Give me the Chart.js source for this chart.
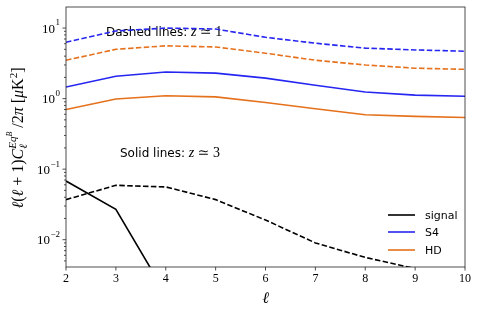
<!DOCTYPE html>
<html>
<head>
<meta charset="utf-8">
<script src="https://cdn.jsdelivr.net/npm/chart.js@4.4.0/dist/chart.umd.min.js"></script>
<style>
html, body { margin: 0; padding: 0; background: #fff; }
#wrap { width: 479px; height: 314px; }
</style>
</head>
<body>
<div id="wrap"><canvas id="c"></canvas></div>
<script>
// data
const ells = [2, 3, 4, 5, 6, 7, 8, 9, 10];
const signalZ3 = [0.068, 0.027, 0.0017, null, null, null, null, null, null];
const signalZ1 = [0.037, 0.059, 0.056, 0.037, 0.019, 0.009, 0.0056, 0.0039, 0.0026];
const s4Z3 = [1.46, 2.08, 2.38, 2.3, 1.95, 1.55, 1.24, 1.12, 1.08];
const s4Z1 = [6.3, 9.1, 10.0, 9.7, 7.4, 6.1, 5.2, 4.9, 4.7];
const hdZ3 = [0.70, 0.99, 1.1, 1.06, 0.88, 0.72, 0.59, 0.56, 0.54];
const hdZ1 = [3.5, 5.0, 5.6, 5.4, 4.4, 3.5, 3.0, 2.7, 2.6];
const yDecades = [0.01, 0.1, 1, 10];
const yDecadeExp = ['−2', '−1', '0', '1'];
const legendLabels = ['signal', 'S4', 'HD'];

const BLUE = '#2626f2';
const ORANGE = '#e5711c';
const BLACK = '#000000';
const DASH = [5.5, 2.4];

function pts(arr) {
    return ells.map((x, i) => ({ x: x, y: arr[i] }));
}

function ds(arr, color, dashed) {
    return {
        data: pts(arr),
        borderColor: color,
        borderWidth: 1.6,
        borderDash: dashed ? DASH : [],
        pointRadius: 0,
        fill: false,
        tension: 0,
        spanGaps: false
    };
}

const SERIF = '"Liberation Serif", "DejaVu Serif", serif';
const SANS = '"DejaVu Sans", "Noto Sans", sans-serif';

// text with the math part in serif
function note(ctx, x, y, words, sym) {
    ctx.font = '12px ' + SANS;
    ctx.fillText(words, x, y);
    let w = ctx.measureText(words).width;
    ctx.font = 'italic 14px ' + SERIF;
    ctx.fillText('z', x + w, y);
    w += ctx.measureText('z ').width;
    ctx.font = '14px ' + SERIF;
    ctx.fillText(sym, x + w, y);
}

// frame, ticks, labels, legend, notes
const decor = {
    id: 'decor',
    beforeDatasetsDraw(chart) {
        const ctx = chart.ctx;
        ctx.save();
        ctx.fillStyle = '#000';
        ctx.textBaseline = 'alphabetic';
        ctx.textAlign = 'left';
        note(ctx, 106, 36, 'Dashed lines: ', '≃ 1');
        note(ctx, 120, 157, 'Solid lines: ', '≃ 3');
        ctx.restore();
    },
    afterDraw(chart) {
        const ctx = chart.ctx;
        const a = chart.chartArea;
        const xs = chart.scales.x;
        const ys = chart.scales.y;
        ctx.save();

        // frame
        ctx.strokeStyle = '#222';
        ctx.lineWidth = 0.8;
        ctx.strokeRect(a.left, a.top, a.right - a.left, a.bottom - a.top);

        // x ticks
        ctx.fillStyle = '#000';
        ctx.font = '12px ' + SERIF;
        ctx.textAlign = 'center';
        ctx.textBaseline = 'top';
        ctx.beginPath();
        ells.forEach(v => {
            const px = xs.getPixelForValue(v);
            ctx.moveTo(px, a.bottom);
            ctx.lineTo(px, a.bottom + 3.5);
            ctx.fillText(String(v), px, a.bottom + 6);
        });
        ctx.stroke();

        // y ticks, major and minor
        ctx.beginPath();
        for (let d = 0.001; d < 100; d *= 10) {
            for (let m = 1; m < 10; m++) {
                const v = d * m;
                if (v < ys.min || v > ys.max) continue;
                const py = ys.getPixelForValue(v);
                const len = m === 1 ? 3.5 : 2;
                ctx.moveTo(a.left, py);
                ctx.lineTo(a.left - len, py);
            }
        }
        ctx.stroke();

        ctx.textBaseline = 'middle';
        yDecades.forEach((v, i) => {
            const py = ys.getPixelForValue(v);
            const exp = yDecadeExp[i];
            ctx.font = '9px ' + SERIF;
            const ew = ctx.measureText(exp).width;
            const right = a.left - 6;
            ctx.textAlign = 'left';
            ctx.fillText(exp, right - ew, py - 5);
            ctx.font = '13px ' + SERIF;
            ctx.textAlign = 'right';
            ctx.fillText('10', right - ew - 0.5, py + 1);
        });

        // x label
        ctx.font = 'italic 16px ' + SERIF;
        ctx.textAlign = 'center';
        ctx.textBaseline = 'alphabetic';
        ctx.fillText('ℓ', (a.left + a.right) / 2, 303);

        // y label, rotated
        ctx.save();
        ctx.translate(23, 138);
        ctx.rotate(-Math.PI / 2);
        const parts = [
            { t: 'ℓ', f: 'italic 16px', dy: 0 },
            { t: '(', f: '16px', dy: 0 },
            { t: 'ℓ', f: 'italic 16px', dy: 0 },
            { t: ' + 1)', f: '16px', dy: 0 },
            { t: 'C', f: 'italic 16px', dy: 0 },
            { t: 'ℓ', f: 'italic 11px', dy: 4, stack: true },
            { t: 'Eq', f: 'italic 11px', dy: -7 },
            { t: 'B', f: 'italic 8px', dy: -11 },
            { t: ' /2', f: '16px', dy: 0 },
            { t: 'π', f: 'italic 16px', dy: 0 },
            { t: ' [', f: '16px', dy: 0 },
            { t: 'μ', f: 'italic 16px', dy: 0 },
            { t: 'K', f: '16px', dy: 0 },
            { t: '2', f: '11px', dy: -6 },
            { t: ']', f: '16px', dy: 0 }
        ];
        let total = 0;
        parts.forEach(p => {
            ctx.font = p.f + ' ' + SERIF;
            p.w = ctx.measureText(p.t).width;
            if (!p.stack) total += p.w;
        });
        let x = -total / 2;
        ctx.textAlign = 'left';
        parts.forEach(p => {
            ctx.font = p.f + ' ' + SERIF;
            ctx.fillText(p.t, x, p.dy);
            if (!p.stack) x += p.w;
        });
        ctx.restore();

        // legend
        const legendColors = [BLACK, BLUE, ORANGE];
        const legendY = [215, 232, 250];
        ctx.font = '11px ' + SANS;
        ctx.textAlign = 'left';
        ctx.textBaseline = 'middle';
        legendLabels.forEach((lab, i) => {
            ctx.strokeStyle = legendColors[i];
            ctx.lineWidth = 1.6;
            ctx.beginPath();
            ctx.moveTo(388, legendY[i]);
            ctx.lineTo(415, legendY[i]);
            ctx.stroke();
            ctx.fillStyle = '#000';
            ctx.fillText(lab, 425, legendY[i] + 1);
        });

        ctx.restore();
    }
};

new Chart(document.getElementById('c'), {
    type: 'line',
    data: {
        datasets: [
            ds(signalZ3, BLACK, false),
            ds(signalZ1, BLACK, true),
            ds(s4Z3, BLUE, false),
            ds(s4Z1, BLUE, true),
            ds(hdZ3, ORANGE, false),
            ds(hdZ1, ORANGE, true)
        ]
    },
    options: {
        responsive: true,
        maintainAspectRatio: false,
        animation: false,
        events: [],
        layout: { padding: { top: 7, right: 14, left: 0, bottom: 0 } },
        plugins: {
            legend: { display: false },
            tooltip: { enabled: false }
        },
        scales: {
            x: {
                type: 'linear',
                min: 2,
                max: 10,
                ticks: { display: false },
                grid: { display: false },
                border: { display: false },
                afterFit(s) { s.height = 47; }
            },
            y: {
                type: 'logarithmic',
                min: 0.0041,
                max: 19.9,
                ticks: { display: false },
                grid: { display: false },
                border: { display: false },
                afterFit(s) { s.width = 66; }
            }
        }
    },
    plugins: [decor]
});
</script>
</body>
</html>
